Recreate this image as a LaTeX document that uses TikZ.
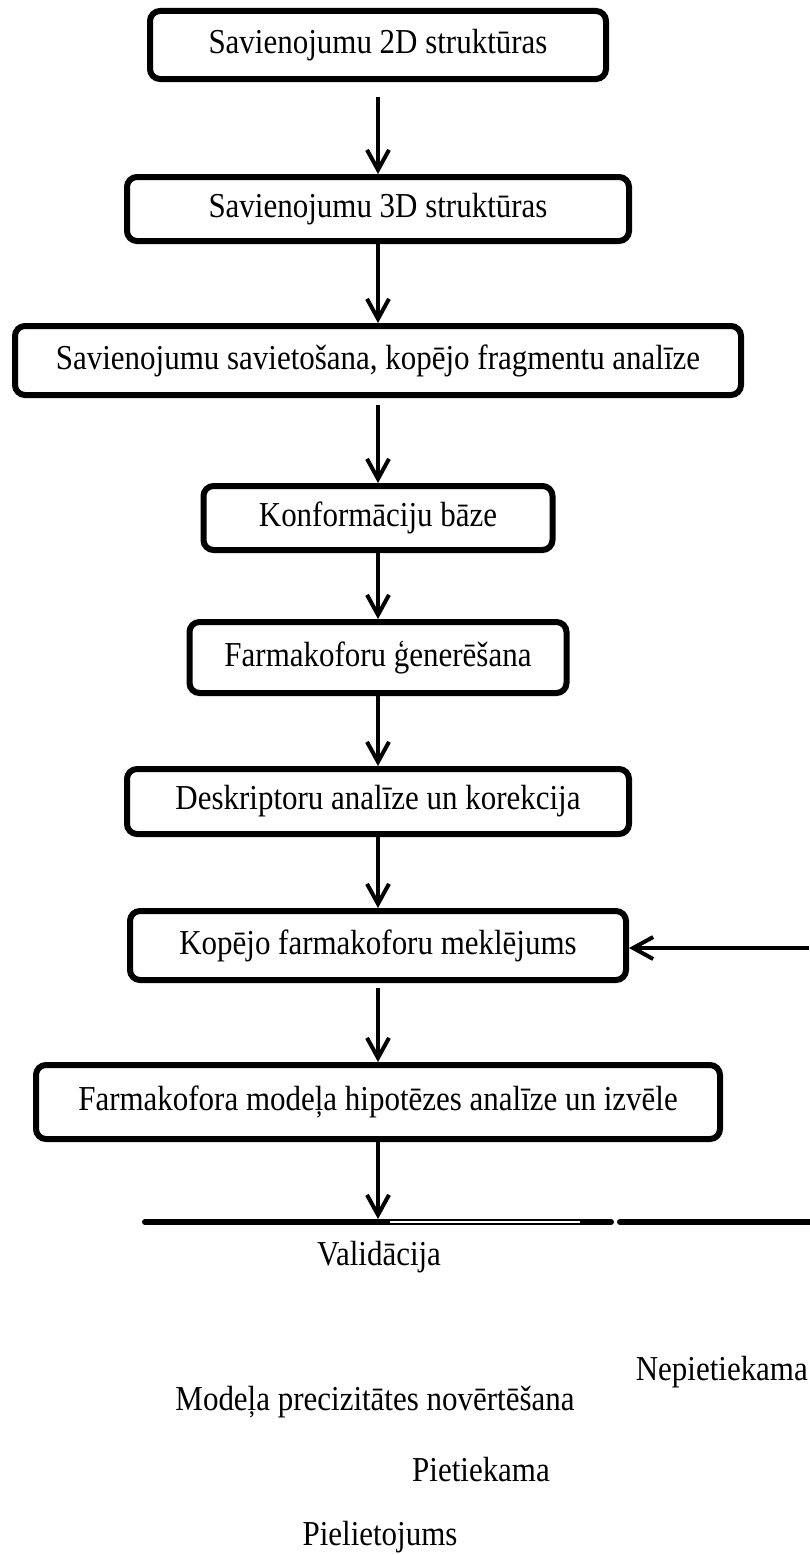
\documentclass[tikz,border=0pt]{standalone}
\usepackage{fontspec}
\setmainfont{Liberation Serif}[FakeStretch=0.885]
\usetikzlibrary{arrows.meta}

\begin{document}
\begin{tikzpicture}[x=1pt,y=-1pt,
  stepbox/.style={draw, line width=6pt, rounded corners=10pt, inner sep=0pt,
    font=\fontsize{35}{42}\selectfont, align=center},
  flow/.style={line width=4pt, -{Straight Barb[length=20pt,width=22pt]}},
  lbl/.style={font=\fontsize{35}{42}\selectfont, inner sep=0pt},
  bar/.style={line width=6pt, line cap=round}]
\useasboundingbox (0,0) rectangle (809,1555);

% process steps
\node[stepbox, minimum width=456pt, minimum height=68pt] (b1) at (378,45)     {Savienojumu 2D struktūras};
\node[stepbox, minimum width=502pt, minimum height=64pt] (b2) at (378,209)    {Savienojumu 3D struktūras};
\node[stepbox, minimum width=726pt, minimum height=69pt] (b3) at (378,360.5)  {Savienojumu savietošana, kopējo fragmentu analīze};
\node[stepbox, minimum width=349pt, minimum height=64pt] (b4) at (378,518)    {Konformāciju bāze};
\node[stepbox, minimum width=377pt, minimum height=71pt] (b5) at (378,657.5)  {Farmakoforu ģenerēšana};
\node[stepbox, minimum width=502pt, minimum height=65pt] (b6) at (378,801.5)  {Deskriptoru analīze un korekcija};
\node[stepbox, minimum width=496pt, minimum height=69pt] (b7) at (378,945.5)  {Kopējo farmakoforu meklējums};
\node[stepbox, minimum width=684pt, minimum height=74pt] (b8) at (378,1102)   {Farmakofora modeļa hipotēzes analīze un izvēle};

% downward flow
\draw[flow, shorten <=15pt] (b1.south) -- (b2.north);
\draw[flow] (b2.south) -- (b3.north);
\draw[flow, shorten <=7pt] (b3.south) -- (b4.north);
\draw[flow] (b4.south) -- (b5.north);
\draw[flow] (b5.south) -- (b6.north);
\draw[flow] (b6.south) -- (b7.north);
\draw[flow, shorten <=5pt] (b7.south) -- (b8.north);

% validation bar
\coordinate (hl1) at (145,1222);
\coordinate (hl2) at (611,1222);
\coordinate (hr1) at (620,1222);
\coordinate (hr2) at (812,1222);
\coordinate (hw1) at (390,1222);
\coordinate (hw2) at (580,1222);
\draw[bar] (hl1) -- (hl2);
\draw[bar] (hr1) -- (hr2);
\draw[white, line width=1.5pt] (hw1) -- (hw2);
\draw[flow, shorten >=3pt] (b8.south) -- (b8.south |- hl1);

% feedback into the search step
\coordinate (fb) at (809,948);
\draw[flow] (fb) -- (fb -| b7.east);

% labels
\node[lbl] (val) at (379,1257) {Validācija};
\node[lbl, anchor=east] (nep) at (808,1372) {Nepietiekama};
\node[lbl] (mod) at (375,1402) {Modeļa precizitātes novērtēšana};
\node[lbl] (pie) at (481,1470) {Pietiekama};
\node[lbl] (pil) at (380,1537) {Pielietojums};
\end{tikzpicture}
\end{document}
